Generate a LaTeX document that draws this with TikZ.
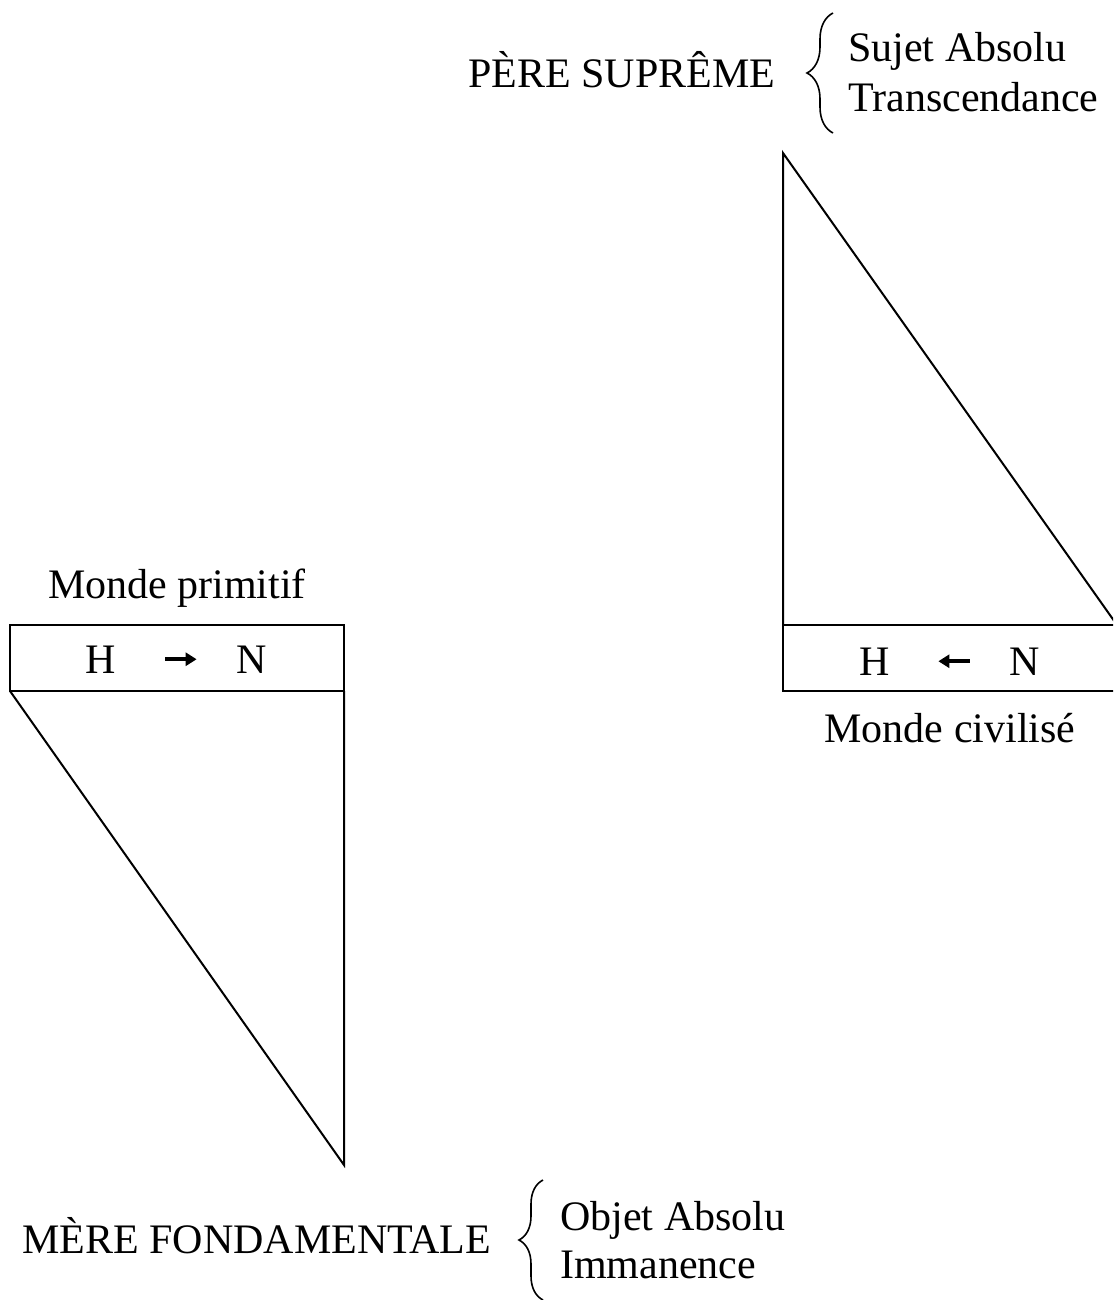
\documentclass[tikz,border=0pt]{standalone}
\usepackage{fontspec}
\setmainfont{Liberation Serif}
\usetikzlibrary{arrows.meta,decorations.pathreplacing}
\begin{document}
\begin{tikzpicture}[x=1pt,y=-1pt,
  txt/.style={inner sep=0pt,font=\fontsize{42}{50}\selectfont},
  shapeline/.style={line width=2pt,line join=miter},
  boxline/.style={line width=2.4pt},
  hn/.style={line width=3.6pt,-{Triangle[length=11pt,width=13pt]}},
  brc/.style={decorate,decoration={brace,amplitude=#1},line width=1.6pt}]
\useasboundingbox (0,0) rectangle (1113,1300);
\clip (0,0) rectangle (1113,1300);
% left figure
\draw[boxline] (10,625) rectangle (344,691);
\draw[shapeline] (10,691) -- (344,1165) -- (344,691);
\node[txt,anchor=base] (mp) at (177,598) {Monde primitif};
\node[txt,anchor=base] (lh) at (101,673) {H};
\node[txt,anchor=base] (ln) at (252,673) {N};
\draw[hn,shorten <=49pt,shorten >=40pt] (lh) -- (ln);
% right figure
\draw[boxline] (783,625) rectangle (1117,691);
\draw[shapeline] (783,625) -- (783,153) -- (1117,625);
\node[txt,anchor=base] (mc) at (950,742) {Monde civilisé};
\node[txt,anchor=base] (rh) at (875,675) {H};
\node[txt,anchor=base] (rn) at (1025,675) {N};
\draw[hn,shorten <=40pt,shorten >=48pt] (rn) -- (rh);
% top labels
\node[txt,anchor=base west] (ps) at (468,88) {PÈRE SUPRÊME};
\coordinate (tb1) at (833,133);
\coordinate (tb2) at (833,13);
\draw[brc=26pt] (tb1) -- (tb2);
\node[txt,anchor=base west] (sa) at (848,62) {Sujet Absolu};
\node[txt,anchor=base west] (tr) at (848,112) {Transcendance};
% bottom labels
\node[txt,anchor=base west] (mf) at (22,1253) {MÈRE FONDAMENTALE};
\coordinate (bb1) at (543,1300);
\coordinate (bb2) at (543,1180);
\draw[brc=24pt] (bb1) -- (bb2);
\node[txt,anchor=base west] (oa) at (560,1230) {Objet Absolu};
\node[txt,anchor=base west] (im) at (560,1278) {Immanence};
\end{tikzpicture}
\end{document}
